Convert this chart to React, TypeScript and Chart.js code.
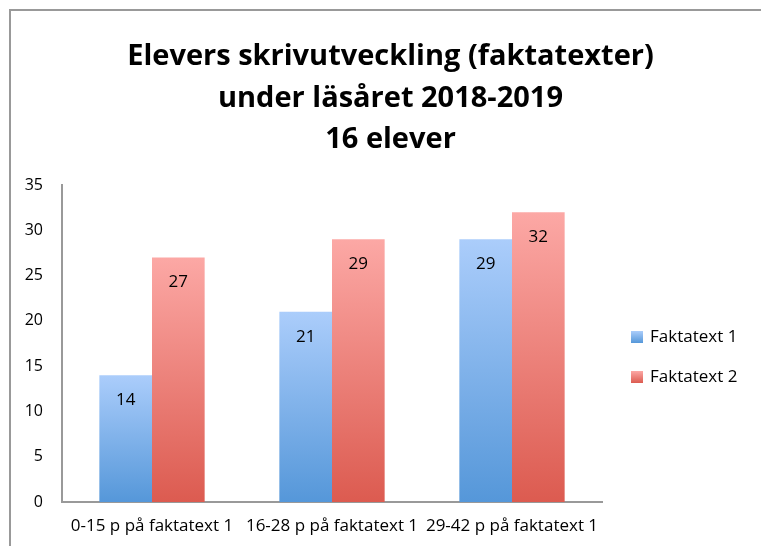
import React, { useEffect, useRef } from "react";
import { Chart, registerables } from "chart.js";

Chart.register(...registerables);

const categories = ["0-15 p på faktatext 1", "16-28 p på faktatext 1", "29-42 p på faktatext 1"];
const seriesNames = ["Faktatext 1", "Faktatext 2"];
const faktatext1 = [14, 21, 29];
const faktatext2 = [27, 29, 32];
const titleLines = ["Elevers skrivutveckling (faktatexter)", "under läsåret 2018-2019", "16 elever"];

const FONT = "'Open Sans', 'Noto Sans', sans-serif";

const palettes = [
  { top: "#abcdfb", bottom: "#5597d9", mid: "#80b2ea" },
  { top: "#fca8a5", bottom: "#dc5b50", mid: "#ec827a" },
];

function barGradient(idx: number) {
  return (ctx: any) => {
    const chart = ctx.chart;
    const p = palettes[idx];
    if (!chart.chartArea || ctx.type !== "data") return p.mid;
    const y = chart.scales.y;
    const top = y.getPixelForValue(ctx.raw);
    const bottom = y.getPixelForValue(0);
    if (!isFinite(top) || !isFinite(bottom) || top === bottom) return p.mid;
    const g = chart.ctx.createLinearGradient(0, top, 0, bottom);
    g.addColorStop(0, p.top);
    g.addColorStop(1, p.bottom);
    return g;
  };
}

const valueLabels = {
  id: "valueLabels",
  afterDatasetsDraw(chart: any) {
    const c = chart.ctx;
    c.save();
    c.font = `17px ${FONT}`;
    c.fillStyle = "#000";
    c.textAlign = "center";
    c.textBaseline = "middle";
    chart.data.datasets.forEach((ds: any, i: number) => {
      const meta = chart.getDatasetMeta(i);
      meta.data.forEach((bar: any, j: number) => {
        c.fillText(String(ds.data[j]), bar.x, bar.y + 25);
      });
    });
    c.restore();
  },
};

// Legend drawn beside the plot area (positions derived from the chart's layout)
const sideLegend = {
  id: "sideLegend",
  afterDraw(chart: any) {
    const c = chart.ctx;
    const area = chart.chartArea;
    const boxX = area.right + 29;
    const centerY = (area.top + area.bottom) / 2 + 13.5;
    const spacing = 40;
    const n = chart.data.datasets.length;
    c.save();
    c.font = `17px ${FONT}`;
    c.textAlign = "left";
    c.textBaseline = "middle";
    chart.data.datasets.forEach((ds: any, i: number) => {
      const y = centerY + (i - (n - 1) / 2) * spacing;
      const p = palettes[i];
      const g = c.createLinearGradient(0, y - 6, 0, y + 6);
      g.addColorStop(0, p.top);
      g.addColorStop(1, p.bottom);
      c.fillStyle = g;
      c.fillRect(boxX, y - 6, 12, 12);
      c.fillStyle = "#000";
      c.fillText(ds.label, boxX + 19, y);
    });
    c.restore();
  },
};

export default function App() {
  const ref = useRef<HTMLCanvasElement>(null);
  useEffect(() => {
    let chart: Chart | null = null;
    let cancelled = false;
    const build = () => {
      if (cancelled || !ref.current) return;
      chart = new Chart(ref.current, {
        type: "bar",
        data: {
          labels: categories,
          datasets: [
            { label: seriesNames[0], data: faktatext1, backgroundColor: barGradient(0) as any, borderWidth: 0 },
            { label: seriesNames[1], data: faktatext2, backgroundColor: barGradient(1) as any, borderWidth: 0 },
          ],
        },
        options: {
          animation: false,
          responsive: false,
          maintainAspectRatio: false,
          layout: { padding: { left: 20, right: 0, top: 0, bottom: 0 } },
          datasets: { bar: { barPercentage: 1, categoryPercentage: 0.585 } },
          scales: {
            x: {
              grid: { display: false, drawTicks: false },
              border: { display: true, color: "#999999", width: 2 },
              ticks: { color: "#000", font: { family: FONT, size: 17 }, padding: 14, maxRotation: 0, autoSkip: false },
              afterFit: (s: any) => { s.height = 44; },
            },
            y: {
              min: 0,
              max: 35,
              grid: { display: false, drawTicks: false },
              border: { display: true, color: "#999999", width: 2 },
              ticks: { stepSize: 5, color: "#000", font: { family: FONT, size: 16 }, padding: 19 },
              afterFit: (s: any) => { s.width = 42; },
            },
            legendSpace: {
              position: "right",
              display: true,
              grid: { display: false, drawTicks: false },
              border: { display: false },
              ticks: { display: false },
              afterFit: (s: any) => { s.width = 159; },
            } as any,
          },
          plugins: {
            title: {
              display: true,
              fullSize: true,
              text: titleLines,
              color: "#000",
              font: { family: FONT, size: 29, weight: "bold", lineHeight: 41.5 / 29 },
              padding: { top: 36, bottom: 24.5 },
            },
            legend: { display: false },
            tooltip: { enabled: false },
          },
        },
        plugins: [valueLabels, sideLegend],
      });
    };
    const fonts = (document as any).fonts;
    if (fonts && fonts.load) {
      Promise.all([
        fonts.load(`17px ${FONT}`),
        fonts.load(`16px ${FONT}`),
        fonts.load(`bold 29px ${FONT}`),
      ]).then(build, build);
    } else {
      build();
    }
    return () => {
      cancelled = true;
      if (chart) chart.destroy();
    };
  }, []);
  return (
    <div style={{ position: "fixed", left: 0, top: 0, width: 761, height: 546, background: "#fff", overflow: "hidden" }}>
      <div style={{ position: "absolute", left: 9, top: 9, width: 800, height: 600, border: "2px solid #999999" }} />
      <canvas ref={ref} width={761} height={546} style={{ position: "absolute", left: 0, top: 0, width: 761, height: 546 }} />
    </div>
  );
}
